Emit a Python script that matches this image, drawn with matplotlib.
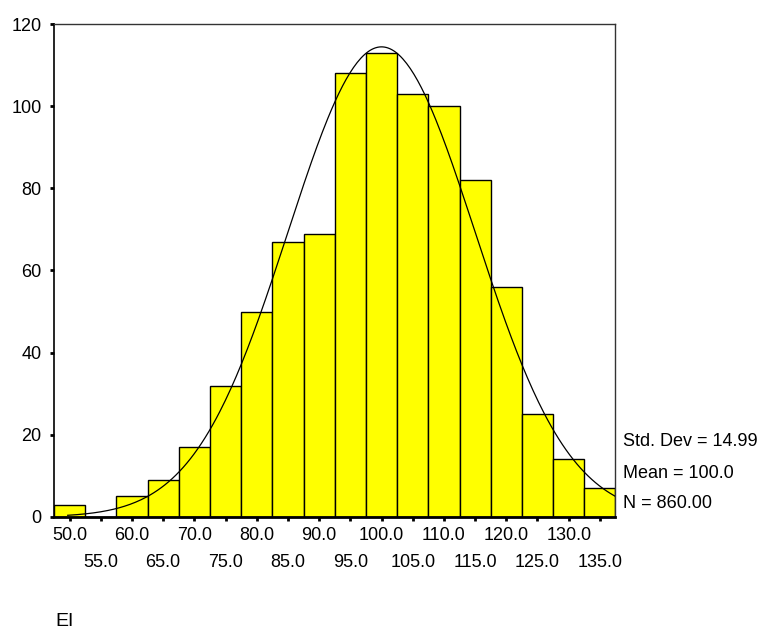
import numpy as np
import matplotlib
matplotlib.use('Agg')
import matplotlib.pyplot as plt

# Histogram of EI (bin centres and counts)
bin_centers = [50, 55, 60, 65, 70, 75, 80, 85, 90, 95, 100, 105, 110, 115, 120, 125, 130, 135]
counts = [3, 0, 5, 9, 17, 32, 50, 67, 69, 108, 113, 103, 100, 82, 56, 25, 14, 7]
bin_width = 5.0

std_dev = 14.99
mean = 100.0
n_total = 860.00

y_ticks = [0, 20, 40, 60, 80, 100, 120]
x_label = 'EI'

plt.rcParams['font.family'] = ['Liberation Sans', 'DejaVu Sans']
fs = 13

fig = plt.figure(figsize=(7.66, 6.32), dpi=100)
ax = fig.add_axes([0.0705, 0.182, 0.733, 0.780])

ax.bar(bin_centers, counts, width=bin_width, color='#ffff00',
       edgecolor='black', linewidth=1.0, zorder=2)

# fitted normal curve from the stats shown
xs = np.linspace(49.7, bin_centers[-1] + bin_width / 2, 300)
ys = n_total * bin_width / (std_dev * np.sqrt(2 * np.pi)) * np.exp(-0.5 * ((xs - mean) / std_dev) ** 2)
ax.plot(xs, ys, color='black', linewidth=0.9, zorder=3)

ax.set_xlim(bin_centers[0] - bin_width / 2, bin_centers[-1] + bin_width / 2)
ax.set_ylim(0, 120)

ax.set_yticks(y_ticks)
ax.set_yticklabels([str(v) for v in y_ticks], fontsize=fs)
ax.tick_params(axis='y', length=3, width=2, pad=6)

# alternate x labels on two rows: even bins as major ticks, odd bins as minor
upper = bin_centers[0::2]
lower = bin_centers[1::2]
ax.set_xticks(upper)
ax.set_xticklabels([f'{c:.1f}' for c in upper], fontsize=fs)
ax.set_xticks(lower, minor=True)
ax.set_xticklabels([f'{c:.1f}' for c in lower], minor=True, fontsize=fs)
ax.tick_params(axis='x', which='major', length=3, width=2, pad=4)
ax.tick_params(axis='x', which='minor', length=3, width=2, pad=24)

for side in ['top', 'right']:
    ax.spines[side].set_linewidth(1.0)
    ax.spines[side].set_color('#333333')
ax.spines['left'].set_linewidth(1.2)
ax.spines['bottom'].set_linewidth(2.0)

# stats box to the right of the plot
fig.text(623 / 766, 1 - 442 / 632, f'Std. Dev = {std_dev:.2f}', fontsize=fs, va='center')
fig.text(623 / 766, 1 - 473 / 632, f'Mean = {mean:.1f}', fontsize=fs, va='center')
fig.text(623 / 766, 1 - 503 / 632, f'N = {n_total:.2f}', fontsize=fs, va='center')

fig.text(55 / 766, 1 - 622 / 632, x_label, fontsize=14, va='center')

fig.savefig('out.png', dpi=100)
